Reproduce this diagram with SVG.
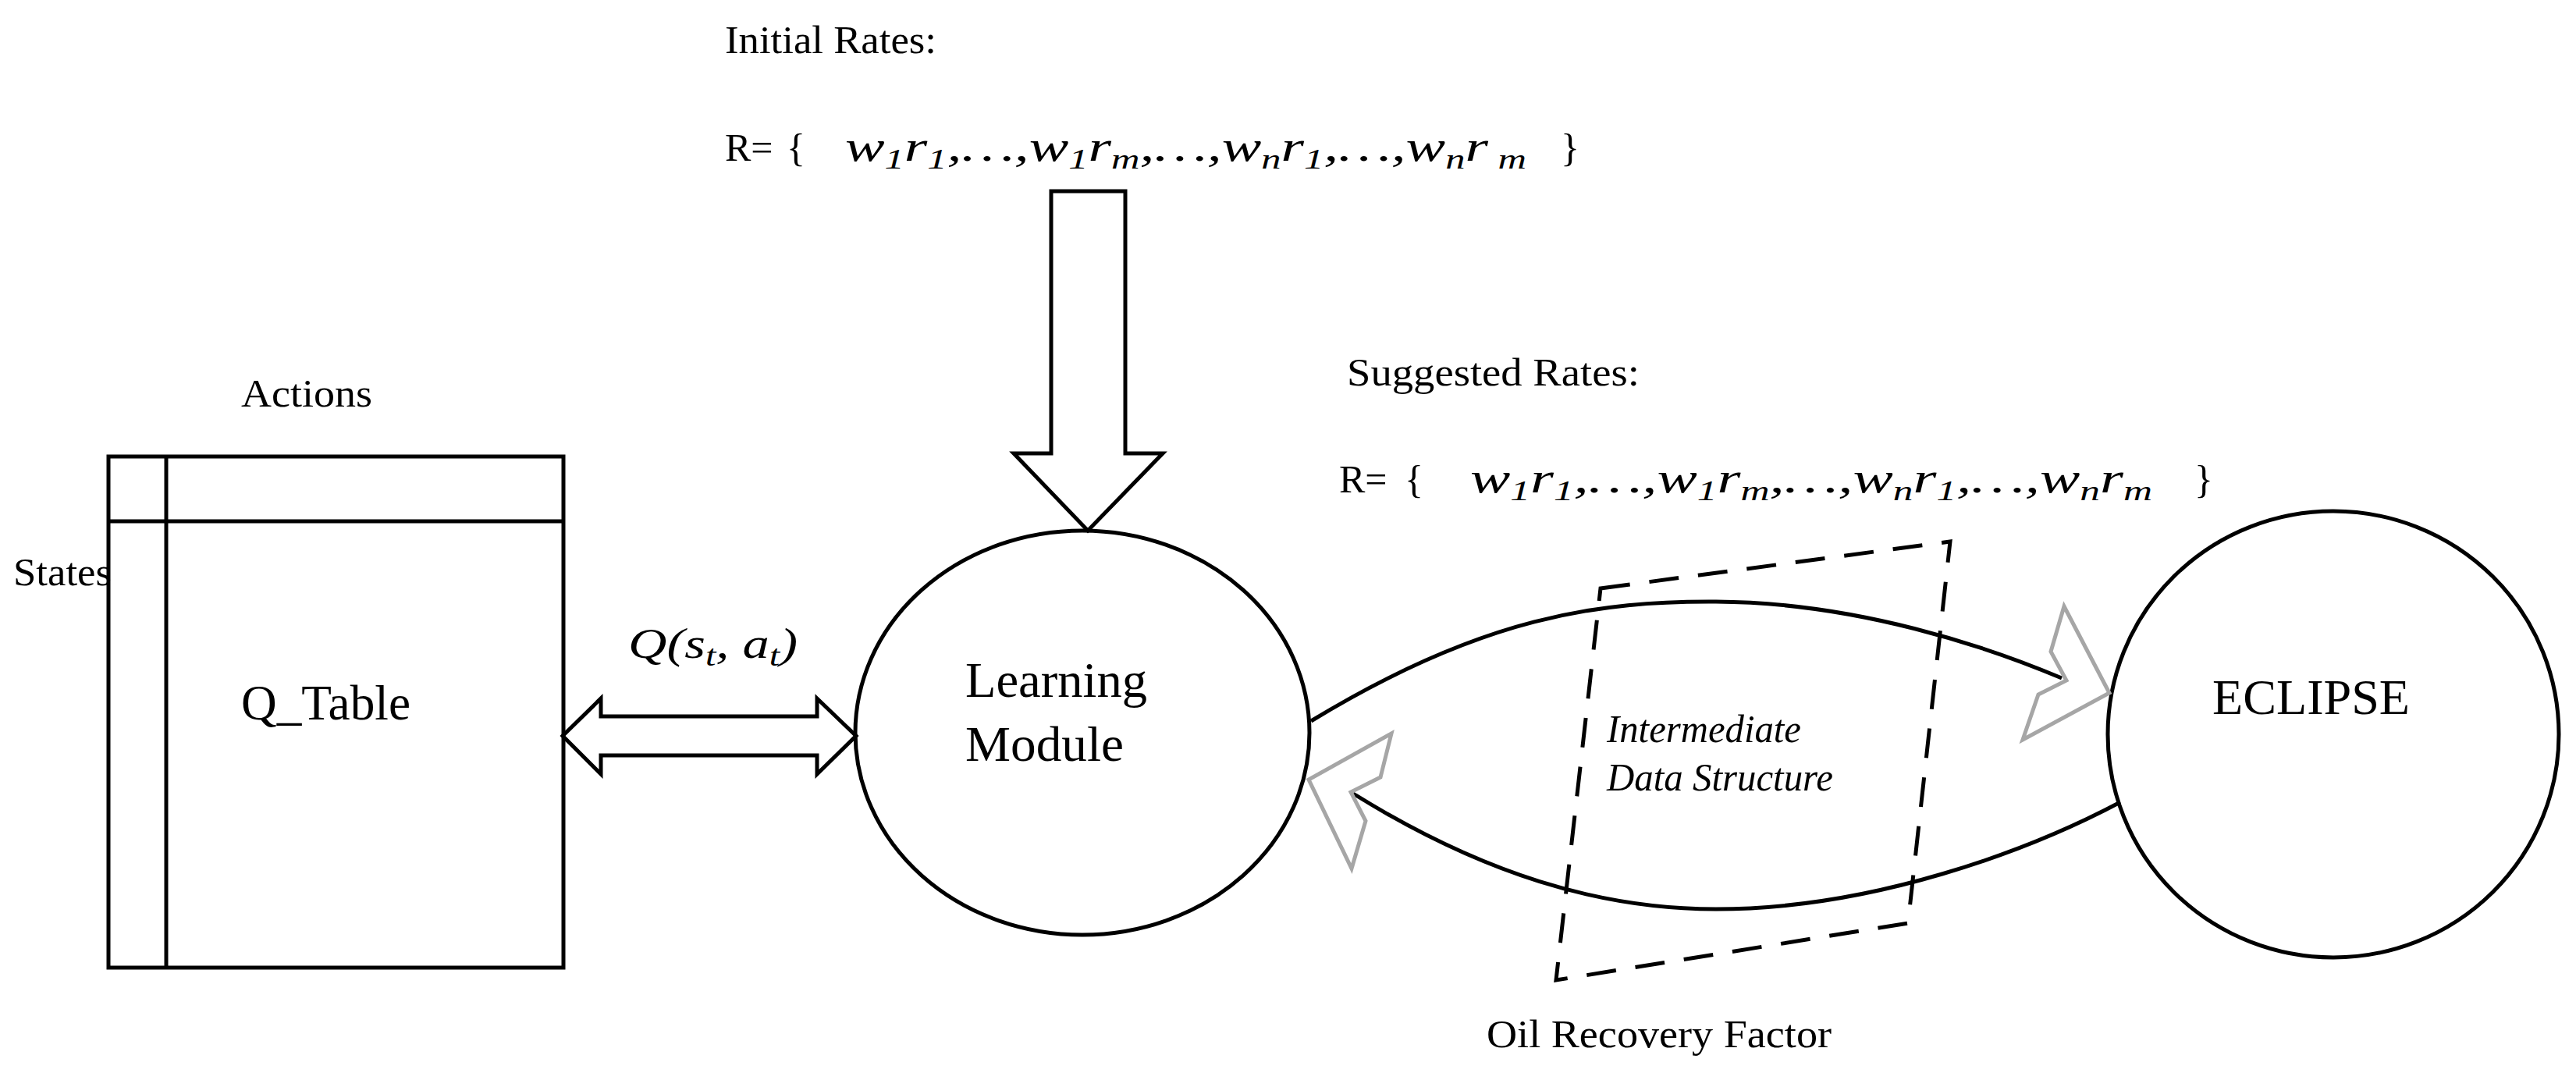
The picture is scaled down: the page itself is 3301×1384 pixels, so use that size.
<svg xmlns="http://www.w3.org/2000/svg" width="3301" height="1384" viewBox="0 0 3301 1384">
<style>
.t{font-family:"Liberation Serif",serif;font-size:50px;fill:#000}
.b{font-size:64px}
.m{font-family:"Liberation Serif",serif;font-style:italic;font-size:54px;fill:#000}
.s{stroke:#000;stroke-width:5;fill:none}
.g{stroke:#a6a6a6;stroke-width:5;fill:#fff}
</style>
<rect width="3301" height="1384" fill="#fff"/>
<g id="qtable">
<rect x="139" y="585" width="583" height="655" class="s"/>
<line x1="139" y1="668" x2="722" y2="668" class="s"/>
<line x1="213" y1="585" x2="213" y2="1240" class="s"/>
<text class="t" x="309" y="521" textLength="168" lengthAdjust="spacingAndGlyphs">Actions</text>
<text class="t" x="17" y="750" textLength="126" lengthAdjust="spacingAndGlyphs">States</text>
<text class="t b" x="309" y="922" textLength="217" lengthAdjust="spacingAndGlyphs">Q_Table</text>
</g>
<g id="learning">
<ellipse cx="1387" cy="939" rx="291" ry="259" class="s"/>
<text class="t b" x="1237" y="893" textLength="233" lengthAdjust="spacingAndGlyphs">Learning</text>
<text class="t b" x="1237" y="975" textLength="203" lengthAdjust="spacingAndGlyphs">Module</text>
</g>
<g id="eclipse">
<ellipse cx="2990" cy="941" rx="289" ry="286" class="s"/>
<text class="t b" x="2835" y="915" textLength="253" lengthAdjust="spacingAndGlyphs">ECLIPSE</text>
</g>
<g id="initial">
<text class="t" x="929" y="68" textLength="271" lengthAdjust="spacingAndGlyphs">Initial Rates:</text>
<text class="t" x="929" y="206">R=</text>
<text class="t" x="1008" y="206" font-size="62">{</text>
<text class="m" x="1083" y="206" textLength="873" lengthAdjust="spacingAndGlyphs">w<tspan font-size="36" dy="10">1</tspan><tspan dy="-10">r</tspan><tspan font-size="36" dy="10">1</tspan><tspan dy="-10">,…,w</tspan><tspan font-size="36" dy="10">1</tspan><tspan dy="-10">r</tspan><tspan font-size="36" dy="10">m</tspan><tspan dy="-10">,…,w</tspan><tspan font-size="36" dy="10">n</tspan><tspan dy="-10">r</tspan><tspan font-size="36" dy="10">1</tspan><tspan dy="-10">,…,w</tspan><tspan font-size="36" dy="10">n</tspan><tspan dy="-10">r</tspan><tspan font-size="36" dy="10"> m</tspan></text>
<text class="t" x="2000" y="206" font-size="62">}</text>
</g>
<g id="suggested">
<text class="t" x="1726" y="494" textLength="375" lengthAdjust="spacingAndGlyphs">Suggested Rates:</text>
<text class="t" x="1716" y="631">R=</text>
<text class="t" x="1800" y="631" font-size="62">{</text>
<text class="m" x="1884" y="631" textLength="874" lengthAdjust="spacingAndGlyphs">w<tspan font-size="36" dy="10">1</tspan><tspan dy="-10">r</tspan><tspan font-size="36" dy="10">1</tspan><tspan dy="-10">,…,w</tspan><tspan font-size="36" dy="10">1</tspan><tspan dy="-10">r</tspan><tspan font-size="36" dy="10">m</tspan><tspan dy="-10">,…,w</tspan><tspan font-size="36" dy="10">n</tspan><tspan dy="-10">r</tspan><tspan font-size="36" dy="10">1</tspan><tspan dy="-10">,…,w</tspan><tspan font-size="36" dy="10">n</tspan><tspan dy="-10">r</tspan><tspan font-size="36" dy="10">m</tspan></text>
<text class="t" x="2812" y="631" font-size="62">}</text>
</g>
<g id="ids">
<polygon points="2051,754 2499,694 2445,1183 1994,1256" fill="none" stroke="#000" stroke-width="5" stroke-dasharray="38,25"/>
<text class="t" x="2059" y="951" font-style="italic" font-size="46" textLength="249" lengthAdjust="spacingAndGlyphs">Intermediate</text>
<text class="t" x="2059" y="1013" font-style="italic" font-size="46" textLength="290" lengthAdjust="spacingAndGlyphs">Data Structure</text>
</g>
<g id="connectors">
<polygon points="1347,245 1442,245 1442,581 1490,581 1394,680 1299,581 1347,581" class="s" fill="#fff"/>
<polygon points="721,943 770,895 770,918 1047,918 1047,895 1097,943 1047,992 1047,968 770,968 770,992" class="s" fill="#fff"/>
<text class="m" x="805" y="843" font-size="60" textLength="217" lengthAdjust="spacingAndGlyphs">Q(s<tspan font-size="38" dy="10">t</tspan><tspan dy="-10">, a</tspan><tspan font-size="38" dy="10">t</tspan><tspan dy="-10">)</tspan></text>
<path d="M1680,924 C1900,790 2050,770 2199,771 C2380,772 2550,830 2642,869" class="s"/>
<path d="M1734,1017 C1900,1120 2050,1165 2199,1165 C2400,1165 2600,1090 2717,1028" class="s"/>
<polygon points="2645,777 2703,888 2592,948 2612,890 2648,872 2628,835" class="g"/>
<polygon points="1783,940 1677,999 1732,1113 1750,1052 1731,1015 1769,996" class="g"/>
<text class="t" x="1905" y="1342" textLength="442" lengthAdjust="spacingAndGlyphs">Oil Recovery Factor</text>
</g>
</svg>
